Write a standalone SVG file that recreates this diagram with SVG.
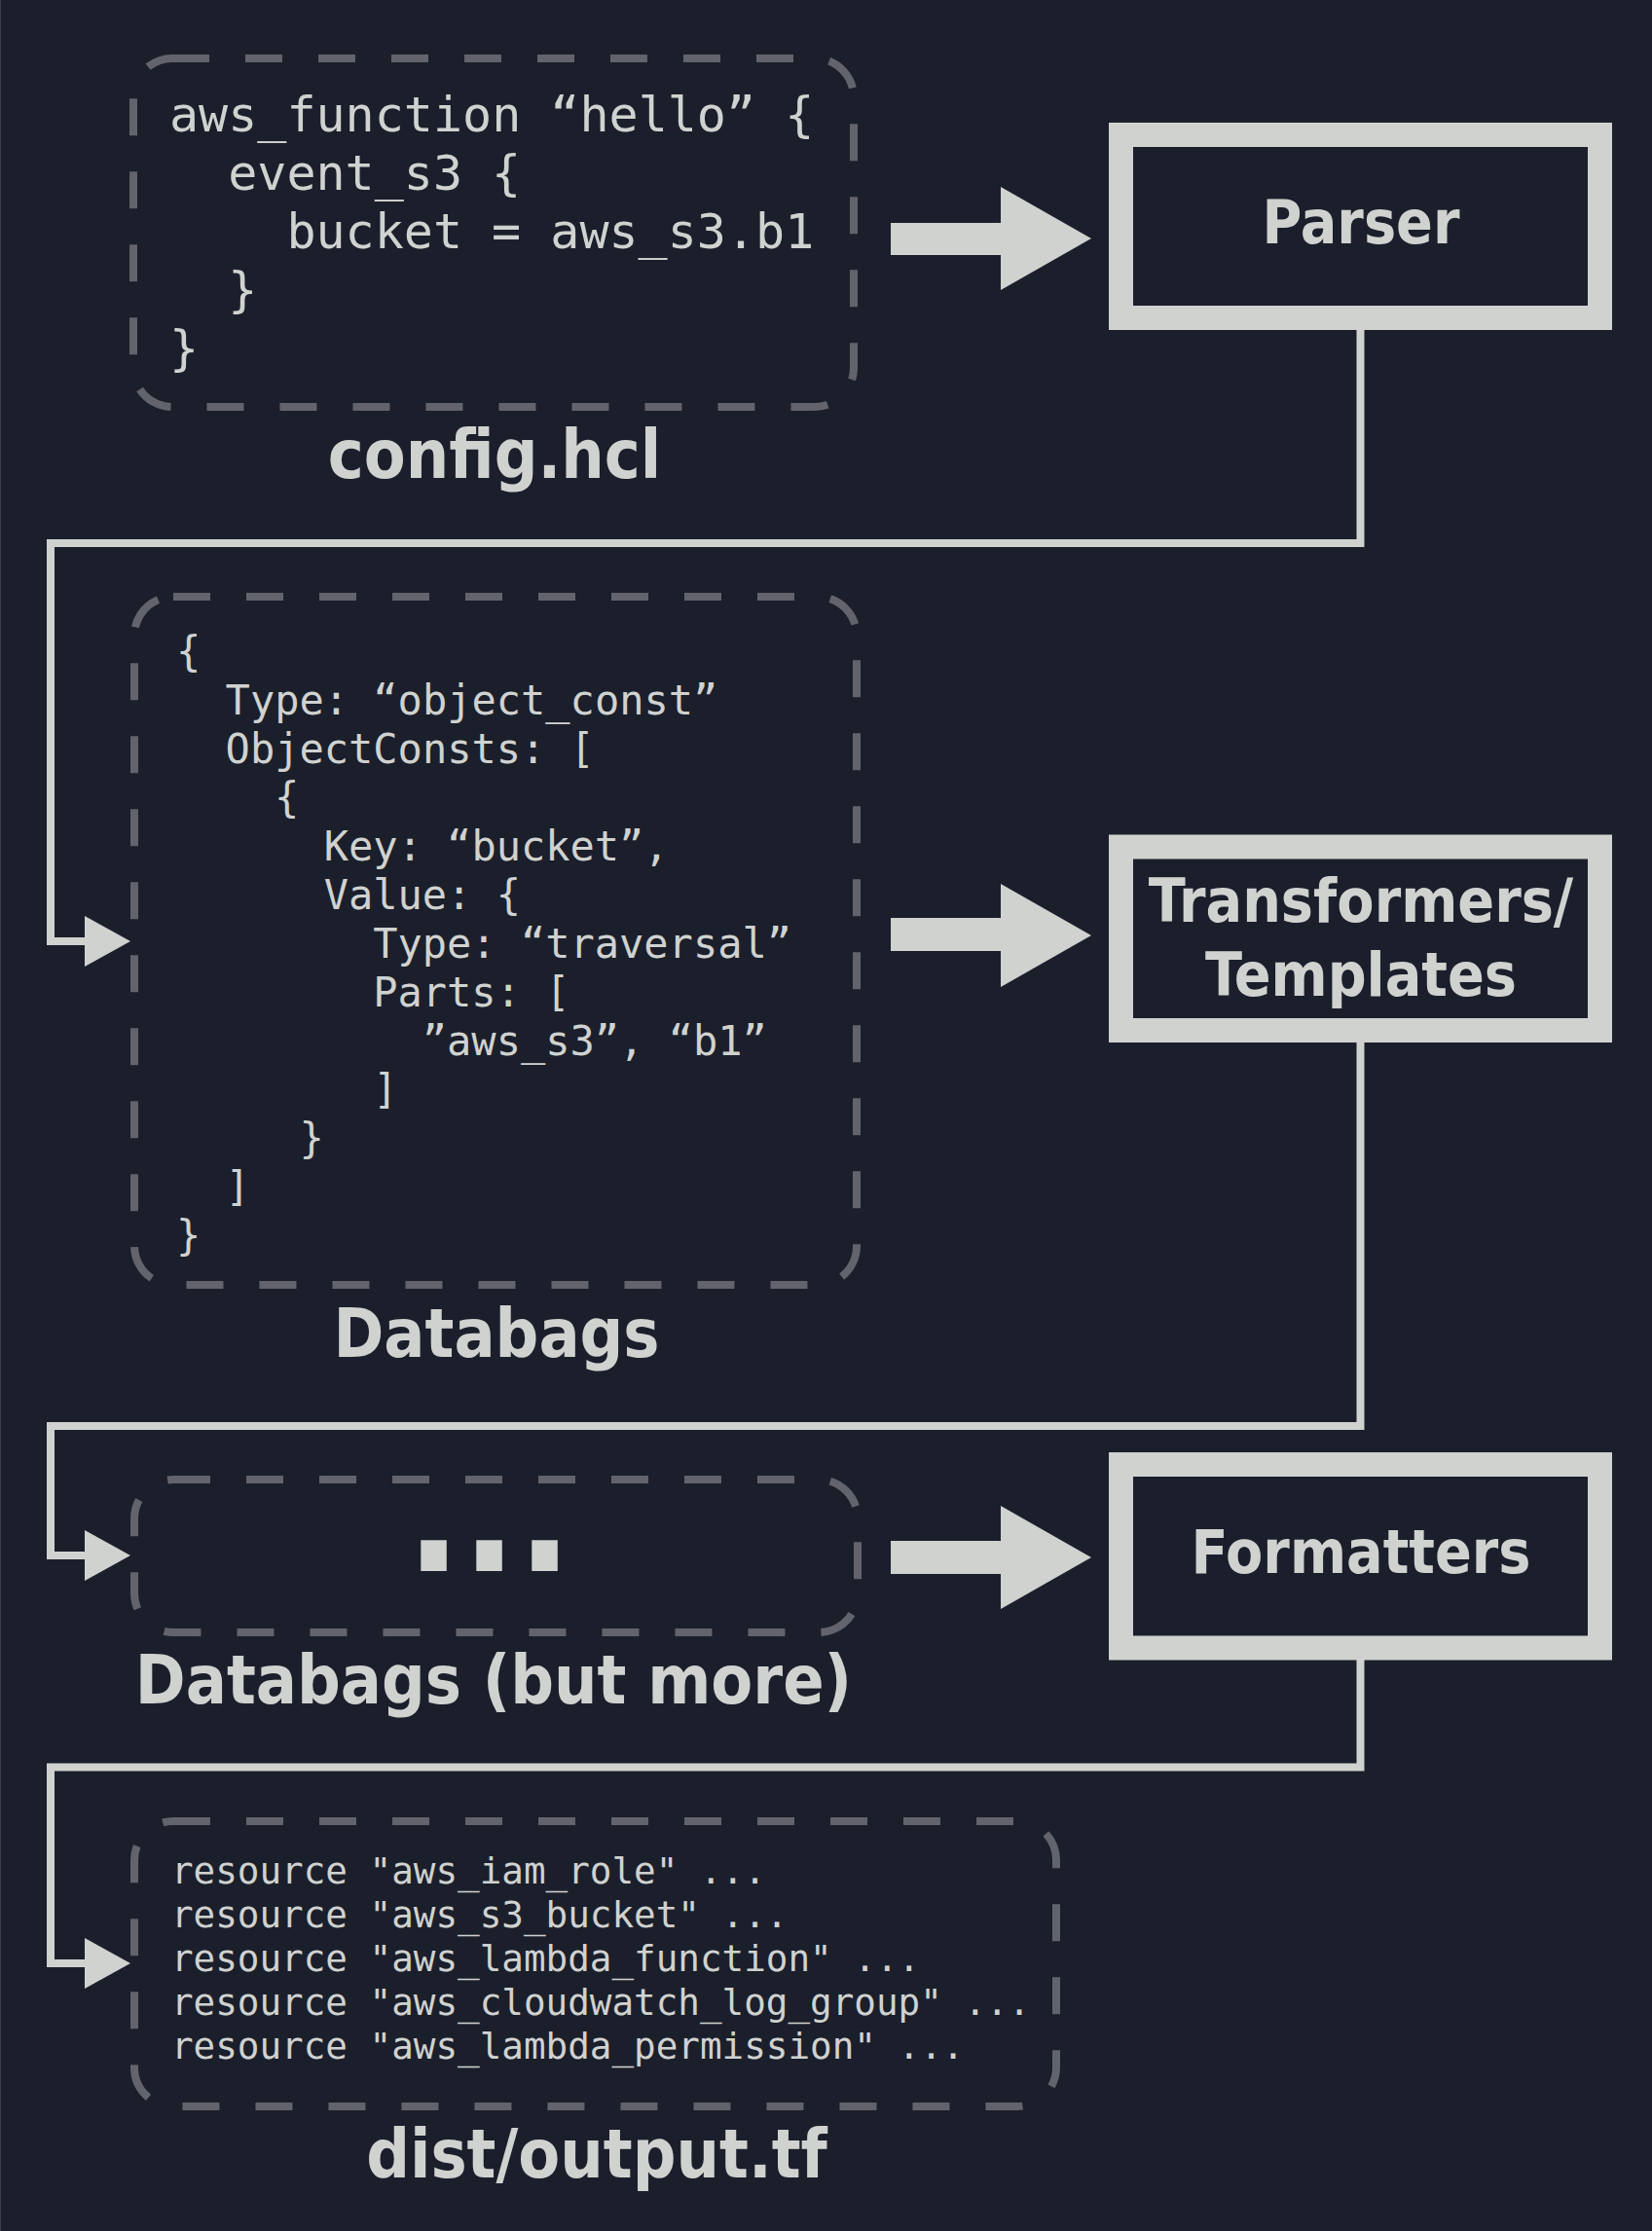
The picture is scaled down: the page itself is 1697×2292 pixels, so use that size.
<svg xmlns="http://www.w3.org/2000/svg" width="1697" height="2292" viewBox="0 0 1697 2292">
<defs>
<style>
.bg{fill:#1b1f2b}
.dash{fill:none;stroke:#62636c;stroke-width:8;stroke-dasharray:38 37}
.proc{fill:#1b1f2b;stroke:#d0d2d0;stroke-width:25}
.conn{fill:none;stroke:#d0d2d0;stroke-width:8}
.head{fill:#d0d2d0}
.code{font-family:'DejaVu Sans Mono','Liberation Mono',monospace;fill:#d0d2d0}
.lbl{font-family:'DejaVu Sans Condensed','DejaVu Sans',sans-serif;font-stretch:condensed;font-weight:bold;fill:#d0d2d0;text-anchor:middle}
</style>
</defs>
<rect class="bg" x="0" y="0" width="1697" height="2292"/>
<line x1="0.5" y1="0" x2="0.5" y2="2292" stroke="#3c404a" stroke-width="1"/>

<g id="connectors">
<path class="conn" d="M1397.5,339 V558 H52 V967 H90"/>
<polygon class="head" points="87,941 134,967 87,993"/>
<path class="conn" d="M1397.5,1071 V1465 H52 V1598 H90"/>
<polygon class="head" points="87,1572 134,1598 87,1624"/>
<path class="conn" d="M1397.5,1705 V1815.5 H52 V2017 H90"/>
<polygon class="head" points="87,1991 134,2017 87,2043"/>
<polygon class="head" points="915,229 1028,229 1028,192 1121,245 1028,298 1028,262 915,262"/>
<polygon class="head" points="915,943 1028,943 1028,908 1121,961 1028,1014 1028,977 915,977"/>
<polygon class="head" points="915,1583 1028,1583 1028,1547 1121,1600 1028,1653 1028,1617 915,1617"/>
</g>

<g id="config">
<rect class="dash" x="137" y="60" width="740" height="358" rx="40"/>
<g class="code" font-size="50">
<text x="174" y="135">aws_function “hello” {</text>
<text x="234.2" y="195">event_s3 {</text>
<text x="294.4" y="255">bucket = aws_s3.b1</text>
<text x="234.2" y="315">}</text>
<text x="174" y="375">}</text>
</g>
<text class="lbl" x="508" y="491" font-size="69.5">config.hcl</text>
</g>

<g id="parser">
<rect class="proc" x="1151.5" y="138.5" width="492" height="188"/>
<text class="lbl" x="1398" y="250" font-size="62">Parser</text>
</g>

<g id="databags">
<rect class="dash" x="138" y="613" width="742" height="707" rx="40"/>
<g class="code" font-size="42">
<text x="181" y="683.5">{</text>
<text x="231.6" y="733.5">Type: “object_const”</text>
<text x="231.6" y="783.5">ObjectConsts: [</text>
<text x="282.1" y="833.5">{</text>
<text x="332.7" y="883.5">Key: “bucket”,</text>
<text x="332.7" y="933.5">Value: {</text>
<text x="383.2" y="983.5">Type: “traversal”</text>
<text x="383.2" y="1033.5">Parts: [</text>
<text x="433.8" y="1083.5">”aws_s3”, “b1”</text>
<text x="383.2" y="1133.5">]</text>
<text x="307.4" y="1183.5">}</text>
<text x="231.6" y="1233.5">]</text>
<text x="181" y="1283.5">}</text>
</g>
<text class="lbl" x="510" y="1394" font-size="69.5">Databags</text>
</g>

<g id="transformers">
<rect class="proc" x="1151.5" y="870" width="492" height="188.5"/>
<text class="lbl" x="1398" y="947" font-size="62">Transformers/</text>
<text class="lbl" x="1398" y="1023" font-size="62">Templates</text>
</g>

<g id="databags-more">
<rect class="dash" x="138" y="1520" width="743" height="157" rx="40"/>
<text class="lbl" x="502.5" y="1614" font-size="167">...</text>
<text class="lbl" x="507" y="1750" font-size="69.5">Databags (but more)</text>
</g>

<g id="formatters">
<rect class="proc" x="1151.5" y="1504.5" width="492" height="188.5"/>
<text class="lbl" x="1398" y="1616" font-size="62">Formatters</text>
</g>

<g id="output">
<rect class="dash" x="138" y="1871" width="947" height="293" rx="40"/>
<g class="code" font-size="37.6">
<text x="176" y="1935">resource "aws_iam_role" ...</text>
<text x="176" y="1980">resource "aws_s3_bucket" ...</text>
<text x="176" y="2025">resource "aws_lambda_function" ...</text>
<text x="176" y="2070">resource "aws_cloudwatch_log_group" ...</text>
<text x="176" y="2115">resource "aws_lambda_permission" ...</text>
</g>
<text class="lbl" x="613" y="2237" font-size="69.5">dist/output.tf</text>
</g>
</svg>
